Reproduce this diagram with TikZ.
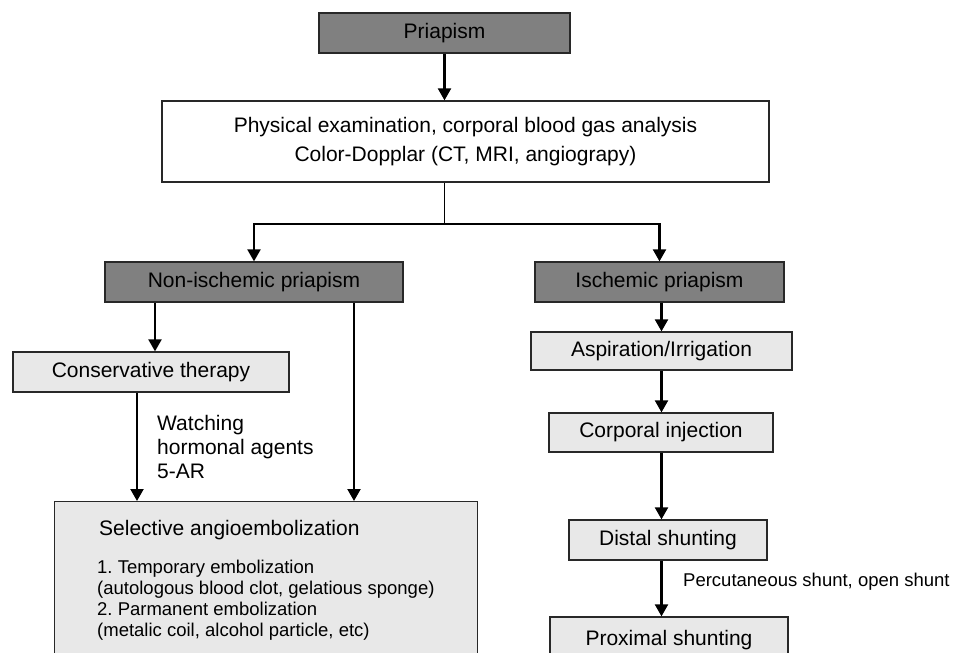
\documentclass[tikz,border=0pt]{standalone}
\usepackage{fontspec}
\setmainfont{Liberation Sans}
\usetikzlibrary{arrows.meta}
\definecolor{darkfill}{RGB}{128,128,128}
\definecolor{lightfill}{RGB}{232,232,232}
\definecolor{edge}{RGB}{40,40,40}
\frenchspacing
\begin{document}
\begin{tikzpicture}[x=1pt,y=-1pt,
  box/.style={draw=edge, line width=1.3pt, inner sep=0pt, font=\fontsize{21}{29}\selectfont, align=center},
  darkbox/.style={box, fill=darkfill},
  lightbox/.style={box, fill=lightfill},
  whitebox/.style={box, fill=white},
  arr/.style={line width=2.2pt, -{Triangle[length=12pt,width=13pt]}},
  thinln/.style={line width=1.1pt},
  lbl/.style={inner sep=0pt, anchor=base west, font=\fontsize{21}{25}\selectfont},
  smalllbl/.style={inner sep=0pt, anchor=base west, font=\fontsize{18.5}{21}\selectfont},
]
\useasboundingbox (0,0) rectangle (954,653);
\clip (0,0) rectangle (954,653);
\fill[white] (0,0) rectangle (954,653);

\node[darkbox, minimum width=251, minimum height=40] (pri) at (444.5,33) {Priapism};
\node[whitebox, minimum width=607, minimum height=81] (phys) at (465.5,141.5) {Physical examination, corporal blood gas analysis\\Color-Dopplar (CT, MRI, angiograpy)};

\node[darkbox, minimum width=298, minimum height=40] (non) at (254,282) {Non-ischemic priapism};
\node[darkbox, minimum width=249, minimum height=40] (isch) at (659.5,282) {Ischemic priapism};

\node[lightbox, minimum width=276, minimum height=40] (cons) at (151,372) {Conservative therapy};
\node[lightbox, minimum width=423, minimum height=200, anchor=north west] (sel) at (54,501) {};
\node[lbl] (seltitle) at (99,535) {Selective angioembolization};
\node[smalllbl] (l1) at (97,573) {1. Temporary embolization};
\node[smalllbl] (l2) at (97,594) {(autologous blood clot, gelatious sponge)};
\node[smalllbl] (l3) at (97,615) {2. Parmanent embolization};
\node[smalllbl] (l4) at (97,636) {(metalic coil, alcohol particle, etc)};

\node[lbl] (w1) at (157,430) {Watching};
\node[lbl] (w2) at (157,454) {hormonal agents};
\node[lbl] (w3) at (157,478) {5-AR};

\node[lightbox, minimum width=261, minimum height=38] (asp) at (661.5,351) {Aspiration/Irrigation};
\node[lightbox, minimum width=224, minimum height=39] (corp) at (661,432.5) {Corporal injection};
\node[lightbox, minimum width=198, minimum height=40] (dist) at (668,540) {Distal shunting};
\node[lightbox, minimum width=238, minimum height=46] (prox) at (669,640) {Proximal shunting};
\node[smalllbl] (perc) at (683,586) {Percutaneous shunt, open shunt};

% connectors
\draw[arr] (pri.south) -- (pri.south |- phys.north);
\coordinate (br) at (444.5,224);
\draw[thinln] (pri.south |- phys.south) -- (br);
\draw[arr] (br) -| (non.north);
\draw[arr] (br) -| (isch.north);

\draw[arr] ([xshift=-99pt]non.south) -- ([xshift=-99pt]non.south |- cons.north);
\draw[arr] ([xshift=100pt]non.south) -- ([xshift=100pt]non.south |- sel.north);
\draw[arr] ([xshift=-14pt]cons.south) -- ([xshift=-14pt]cons.south |- sel.north);

\draw[arr] (asp.north |- isch.south) -- (asp.north);
\draw[arr] (asp.south) -- (asp.south |- corp.north);
\draw[arr] (asp.south |- corp.south) -- (asp.south |- dist.north);
\draw[arr] (asp.south |- dist.south) -- (asp.south |- prox.north);
\end{tikzpicture}
\end{document}
